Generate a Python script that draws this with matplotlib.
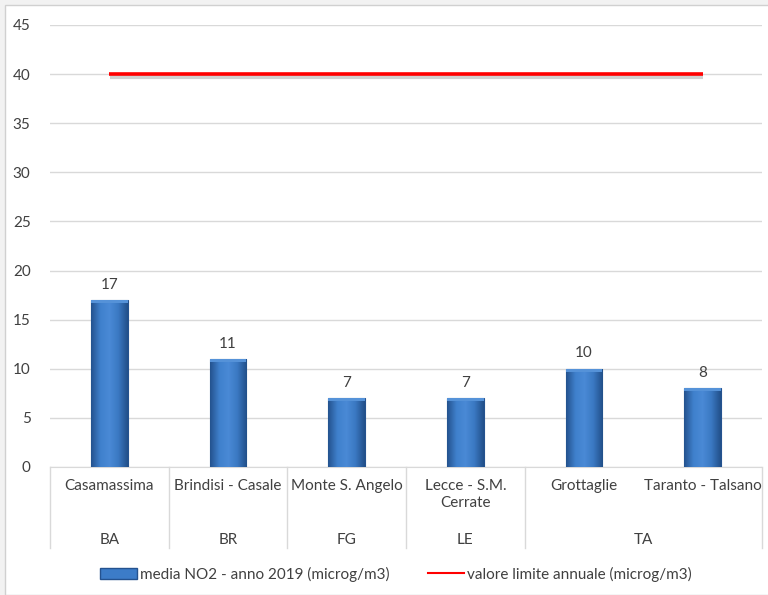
import numpy as np
import matplotlib
matplotlib.use("Agg")
from matplotlib import pyplot as plt
from matplotlib import patheffects as pe
from matplotlib.patches import Rectangle
from matplotlib.lines import Line2D
from matplotlib.colors import LinearSegmentedColormap

plt.rcParams['font.family'] = ['Lato', 'DejaVu Sans']

# Data
stations = ["Casamassima", "Brindisi - Casale", "Monte S. Angelo", "Lecce - S.M.\nCerrate",
            "Grottaglie", "Taranto - Talsano"]
provinces = ["BA", "BR", "FG", "LE", "TA"]
provinceSpans = [(0, 0), (1, 1), (2, 2), (3, 3), (4, 5)]
no2Mean = [17, 11, 7, 7, 10, 8]
limitValue = [40, 40, 40, 40, 40, 40]
labelBars = "media NO2 - anno 2019 (microg/m3)"
labelLimit = "valore limite annuale (microg/m3)"

textCol = "#404040"
gridCol = "#d9d9d9"

W, H = 768, 595
fig = plt.figure(figsize=(W / 100, H / 100), dpi=100)
fig.patch.set_facecolor("#f2f2f2")

# white chart area with a light border
fig.patches.append(Rectangle((5 / W, 0), 1, 1 - 5 / H, transform=fig.transFigure,
                             facecolor="white", edgecolor="#d0d0d0", lw=1, zorder=-10))

ax = fig.add_axes([50 / W, (H - 467) / H, 712 / W, (467 - 25) / H])
ax.patch.set_alpha(0)
x = np.arange(len(stations))

bars = ax.bar(x, no2Mean, width=0.31, color="#3c7cc8", edgecolor="#24528f", lw=0.8, zorder=3)

# horizontal gradient inside each bar for the bevel look
cmap = LinearSegmentedColormap.from_list("bev", ["#24538f", "#3f80cc", "#4a8ad6", "#3a78c2", "#22508a"])
grad = np.linspace(0, 1, 64).reshape(1, -1)
for b in bars:
    bx, by = b.get_x(), b.get_y()
    im = ax.imshow(grad, cmap=cmap, aspect="auto", extent=[bx, bx + b.get_width(), by, by + b.get_height()],
                   zorder=3.5)
    im.set_clip_path(b)
    ax.add_patch(Rectangle((bx, b.get_height() - 0.3), b.get_width(), 0.3, color="#5592d8",
                           zorder=3.6, lw=0))

for xi, v in zip(x, no2Mean):
    ax.annotate(f"{v}", (xi, v), xytext=(0, 6), textcoords="offset points",
                ha="center", va="bottom", fontsize=11, color=textCol)

ax.plot(x, limitValue, color="#ff0000", lw=2.6, zorder=4, solid_capstyle="butt",
        path_effects=[pe.SimpleLineShadow(offset=(0.5, -2), shadow_color="#000000", alpha=0.18, linewidth=3),
                      pe.Normal()])

ax.set_xlim(-0.5, len(stations) - 0.5)
ax.set_ylim(0, 45)
ax.set_yticks(np.arange(0, 46, 5))
ax.tick_params(axis="y", length=0, labelsize=11, labelcolor=textCol, pad=14)
ax.set_xticks([])
ax.grid(axis="y", color=gridCol, lw=1)
ax.set_axisbelow(True)
for s in ["top", "right", "left"]:
    ax.spines[s].set_visible(False)
ax.spines["bottom"].set_color(gridCol)

# two-level category axis
trans = ax.get_xaxis_transform()
sepBottom = -81 / 442
bounds = [-0.5] + [sp[1] + 0.5 for sp in provinceSpans]
for bnd in bounds:
    ax.plot([bnd, bnd], [0, sepBottom], transform=trans, color=gridCol, lw=1, clip_on=False)
for xi, name in zip(x, stations):
    ax.text(xi, -12 / 442, name, transform=trans, ha="center", va="top", fontsize=11,
            color=textCol, linespacing=1.25)
for prov, (a, b) in zip(provinces, provinceSpans):
    ax.text((a + b) / 2, -73 / 442, prov, transform=trans, ha="center", va="center",
            fontsize=11, color=textCol)

handles = [Rectangle((0, 0), 1, 1, facecolor="#3c7cc8", edgecolor="#24528f"),
           Line2D([0], [0], color="#ff0000", lw=1.5)]
fig.legend(handles, [labelBars, labelLimit], loc="center", bbox_to_anchor=(396 / W, 1 - 574 / H),
           ncol=2, frameon=False, fontsize=11, labelcolor=textCol, handlelength=2.4,
           handletextpad=0.2, columnspacing=2.5)

fig.savefig("out.png", dpi=100, facecolor=fig.get_facecolor())
